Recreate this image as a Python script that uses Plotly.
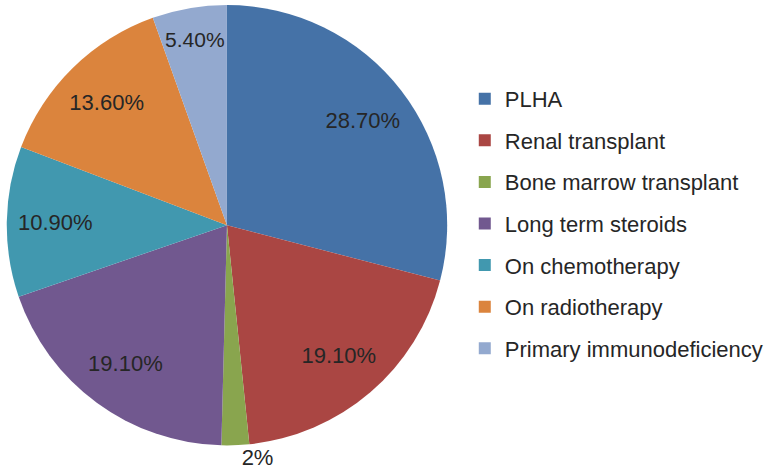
import plotly.graph_objects as go

categories = ["PLHA", "Renal transplant", "Bone marrow transplant", "Long term steroids",
              "On chemotherapy", "On radiotherapy", "Primary immunodeficiency"]
values = [28.7, 19.1, 2.0, 19.1, 10.9, 13.6, 5.4]
value_labels = ["28.70%", "19.10%", "2%", "19.10%", "10.90%", "13.60%", "5.40%"]
colors = ["#4572A7", "#AA4643", "#89A54E", "#71588F", "#4198AF", "#DB843D", "#93A9CF"]

W, H = 768, 475
FONT = "Liberation Sans, Arial, sans-serif"
TXT = "#262626"

positions = ["outside" if v < 3 else "inside" for v in values]
domain = dict(x=[0 / W, 446 / W], y=[27 / H, 474 / H])

fig = go.Figure()
# coloured slices
fig.add_trace(go.Pie(
    labels=categories, values=values, text=value_labels, textinfo="none",
    sort=False, direction="clockwise", rotation=0,
    marker=dict(colors=colors, line=dict(width=0)),
    domain=domain, showlegend=False, hoverinfo="label+text",
))
# same slices as a transparent ring, carrying the value labels toward the rim
fig.add_trace(go.Pie(
    labels=categories, values=values, text=value_labels, textinfo="text",
    textposition=positions, insidetextorientation="horizontal",
    sort=False, direction="clockwise", rotation=0, hole=0.56,
    marker=dict(colors=["rgba(0,0,0,0)"] * len(values), line=dict(width=0)),
    textfont=dict(family=FONT, size=22, color=TXT),
    domain=domain, showlegend=False, hoverinfo="skip",
))

# legend entries (one per category) so the spacing between entries can be set
for i, (c, col) in enumerate(zip(categories, colors)):
    fig.add_trace(go.Scatter(
        x=[None], y=[None], mode="markers", name=c, legendgroup=f"g{i}",
        marker=dict(symbol="square", size=12, color=col),
        hoverinfo="skip",
    ))

fig.update_layout(
    width=W, height=H,
    margin=dict(l=0, r=0, t=0, b=0),
    paper_bgcolor="white", plot_bgcolor="white",
    xaxis=dict(visible=False), yaxis=dict(visible=False),
    showlegend=True,
    legend=dict(
        x=463 / W, y=1 - 75 / H, xanchor="left", yanchor="top",
        font=dict(family=FONT, size=22, color=TXT),
        tracegroupgap=10, itemwidth=30, bgcolor="rgba(0,0,0,0)",
    ),
)

fig.write_html("out.html", config={"displayModeBar": False},
               post_script="document.body.style.margin='0';")
